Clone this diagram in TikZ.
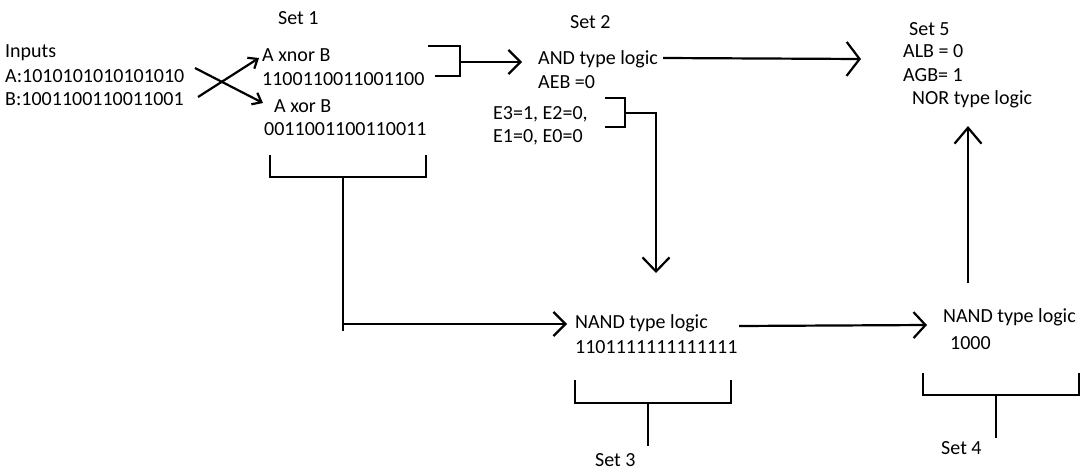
\documentclass[tikz,border=0pt]{standalone}
\usepackage{fontspec}
\setmainfont{Carlito}
\usetikzlibrary{arrows.meta}
\begin{document}
\begin{tikzpicture}[x=1pt,y=-1pt,
  txt/.style={anchor=base west,inner sep=0pt,font=\fontsize{20}{24}\selectfont},
  ln/.style={line width=2.2pt},
  bigarr/.style={ln,-{Straight Barb[length=12pt,width=24pt]}},
  smallarr/.style={ln,-{Straight Barb[length=8pt,width=13pt]}}]
\fill[white] (0,0) rectangle (1092,474);
\useasboundingbox (0,0) rectangle (1092,474);
% texts
\node[txt] (set1) at (278,24) {Set 1};
\node[txt] (inputs) at (5,57) {Inputs};
\node[txt] (ina) at (5,82) {A:1010101010101010};
\node[txt] (inb) at (5,105) {B:1001100110011001};
\node[txt] (xnor) at (262,61) {A xnor B};
\node[txt] (xnorv) at (262,85) {1100110011001100};
\node[txt] (xor) at (274,112) {A xor B};
\node[txt] (xorv) at (264,135) {0011001100110011};
\node[txt] (set2) at (570,28) {Set 2};
\node[txt] (and) at (538,64) {AND type logic};
\node[txt] (aeb) at (538,88) {AEB =0};
\node[txt] (e32) at (493,119) {E3=1, E2=0,};
\node[txt] (e10) at (493,142) {E1=0, E0=0};
\node[txt] (set5) at (909,35) {Set 5};
\node[txt] (alb) at (903,57) {ALB = 0};
\node[txt] (agb) at (903,81) {AGB= 1};
\node[txt] (nor) at (912,104) {NOR type logic};
\node[txt] (nand3) at (575,328) {NAND type logic};
\node[txt] (nand3v) at (575,353) {1101111111111111};
\node[txt] (set3) at (595,466) {Set 3};
\node[txt] (nand4) at (943,322) {NAND type logic};
\node[txt] (nand4v) at (950,349) {1000};
\node[txt] (set4) at (941,454) {Set 4};
% coordinates
\coordinate (aS) at (195,68);  \coordinate (aE) at (263,103);
\coordinate (bS) at (198,97);  \coordinate (bE) at (259,58);
\coordinate (k1a) at (428,46); \coordinate (k1b) at (460,46);
\coordinate (k1c) at (460,76); \coordinate (k1d) at (435,76);
\coordinate (k1m) at (460,62); \coordinate (k1t) at (522,62);
\coordinate (andS) at (663,58); \coordinate (andT) at (861,59);
\coordinate (k2a) at (605,98); \coordinate (k2b) at (625,98);
\coordinate (k2c) at (625,127); \coordinate (k2d) at (605,127);
\coordinate (k2m) at (625,113); \coordinate (k2n) at (656,113);
\coordinate (k2t) at (656,273);
\coordinate (b1a) at (270,155); \coordinate (b1b) at (270,177);
\coordinate (b1c) at (426,177); \coordinate (b1d) at (426,155);
\coordinate (b1m) at (343,177); \coordinate (b1s) at (343,331);
\coordinate (b1h) at (343,324); \coordinate (b1t) at (567,324);
\coordinate (n3S) at (739,326); \coordinate (n3T) at (927,325);
\coordinate (b3a) at (575,380); \coordinate (b3b) at (575,403);
\coordinate (b3c) at (731,403); \coordinate (b3d) at (731,380);
\coordinate (b3m) at (648,403); \coordinate (b3s) at (648,446);
\coordinate (b4a) at (923,373); \coordinate (b4b) at (923,395);
\coordinate (b4c) at (1079,395); \coordinate (b4d) at (1079,373);
\coordinate (b4m) at (996,395); \coordinate (b4s) at (996,438);
\coordinate (upS) at (968,283); \coordinate (upT) at (968,126);
% connectors
\draw[smallarr] (aS) -- (aE);
\draw[smallarr] (bS) -- (bE);
\draw[ln] (k1a) -- (k1b) -- (k1c) -- (k1d);
\draw[bigarr] (k1m) -- (k1t);
\draw[ln,-{Straight Barb[length=13pt,width=34pt]}] (andS) -- (andT);
\draw[ln] (k2a) -- (k2b) -- (k2c) -- (k2d);
\draw[ln,-{Straight Barb[length=14pt,width=27pt]}] (k2m) -- (k2n) -- (k2t);
\draw[ln] (b1a) -- (b1b) -- (b1c) -- (b1d);
\draw[ln] (b1m) -- (b1s);
\draw[bigarr] (b1h) -- (b1t);
\draw[ln,-{Straight Barb[length=12pt,width=26pt]}] (n3S) -- (n3T);
\draw[ln] (b3a) -- (b3b) -- (b3c) -- (b3d);
\draw[ln] (b3m) -- (b3s);
\draw[ln] (b4a) -- (b4b) -- (b4c) -- (b4d);
\draw[ln] (b4m) -- (b4s);
\draw[ln,-{Straight Barb[length=16pt,width=27pt]}] (upS) -- (upT);
\end{tikzpicture}
\end{document}
